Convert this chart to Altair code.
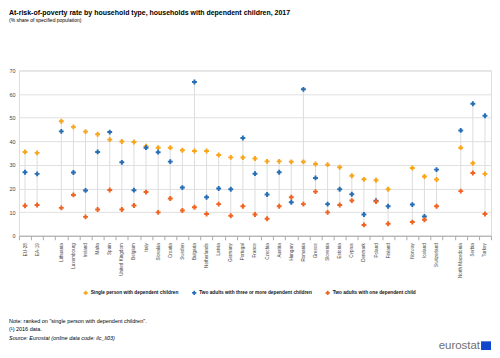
import altair as alt
import pandas as pd

# ---- data ----
countries = ["EU-28", "EA-19", "Lithuania", "Luxembourg", "Ireland", "Malta", "Spain",
             "United Kingdom", "Belgium", "Italy", "Slovakia", "Croatia", "Sweden", "Bulgaria",
             "Netherlands", "Latvia", "Germany", "Portugal", "France", "Czechia", "Austria",
             "Hungary", "Romania", "Greece", "Slovenia", "Estonia", "Cyprus", "Denmark",
             "Poland", "Finland", "Norway", "Iceland", "Switzerland", "North Macedonia",
             "Serbia", "Turkey"]
axis_order = ["EU-28", "EA-19", " ", "Lithuania", "Luxembourg", "Ireland", "Malta", "Spain",
              "United Kingdom", "Belgium", "Italy", "Slovakia", "Croatia", "Sweden", "Bulgaria",
              "Netherlands", "Latvia", "Germany", "Portugal", "France", "Czechia", "Austria",
              "Hungary", "Romania", "Greece", "Slovenia", "Estonia", "Cyprus", "Denmark",
              "Poland", "Finland", "  ", "Norway", "Iceland", "Switzerland", "   ",
              "North Macedonia", "Serbia", "Turkey"]
single = [35.5, 35.1, 48.5, 46.1, 44.1, 43.0, 40.7, 39.9, 39.7, 37.9, 37.3, 37.3, 36.2, 35.9,
          35.9, 34.2, 33.2, 33.1, 32.7, 31.5, 31.5, 31.3, 31.3, 30.4, 30.1, 29.0, 25.4, 23.9,
          23.5, 19.7, 28.7, 25.1, 23.8, 37.3, 30.7, 26.2]
three_plus = [26.9, 26.2, 44.2, 26.8, 19.2, 35.5, 43.9, 31.1, 19.3, 37.3, 35.4, 31.4, 20.4, 65.1,
              16.3, 20.0, 19.7, 41.4, 26.3, 17.5, 26.9, 14.2, 62.0, 24.5, 13.4, 19.7, 17.6, 9.0,
              14.8, 12.5, 13.2, 8.2, 28.0, 44.6, 55.9, 50.8]
one_child = [12.7, 13.0, 11.8, 17.3, 8.0, 11.1, 19.4, 11.1, 12.8, 18.5, 9.9, 15.8, 10.7, 12.1,
             9.2, 13.4, 8.5, 12.5, 9.0, 7.2, 12.5, 16.3, 13.4, 18.7, 9.9, 13.0, 14.9, 4.6,
             14.5, 5.1, 5.8, 6.8, 12.5, 18.9, 26.6, 9.2]
series_names = ["Single person with dependent children",
                "Two adults with three or more dependent children",
                "Two adults with one dependent child"]
series_colors = ["#FAA519", "#286EB4", "#F06423"]
y_ticks = [0, 10, 20, 30, 40, 50, 60, 70]

title = "At-risk-of-poverty rate by household type, households with dependent children, 2017"
subtitle = "(% share of specified population)"
notes = ['Note: ranked on "single person with dependent children".',
         "(\u00b9) 2016 data.",
         "Source: Eurostat (online data code: ilc_li03)"]

FONT = "Liberation Sans"

# ---- tables ----
rows = []
for i, c in enumerate(countries):
    for s, vals in zip(series_names, [single, three_plus, one_child]):
        rows.append({"country": c, "series": s, "value": vals[i]})
df = pd.DataFrame(rows)
rng = pd.DataFrame({
    "country": countries,
    "lo": [min(a, b, c) for a, b, c in zip(single, three_plus, one_child)],
    "hi": [max(a, b, c) for a, b, c in zip(single, three_plus, one_child)],
})

xscale = alt.Scale(type="band", domain=axis_order, paddingInner=0, paddingOuter=0)
xaxis = alt.Axis(title=None, labelAngle=-90, labelFontSize=4.6, labelFont=FONT,
                 labelColor="#444", labelPadding=3, tickBand="extent", tickSize=4,
                 tickColor="#aaa", domainColor="#aaa", grid=False, labelOverlap=False)
yscale = alt.Scale(domain=[0, 70], nice=False)
yaxis = alt.Axis(title=None, values=y_ticks, labelFontSize=5.5, labelFont=FONT,
                 labelColor="#444", domain=False, ticks=False, gridColor="#e0e0e0",
                 labelPadding=4)

rules = alt.Chart(rng).mark_rule(color="#dddddd", strokeWidth=1).encode(
    x=alt.X("country:N", scale=xscale, axis=xaxis, sort=axis_order),
    y=alt.Y("lo:Q", scale=yscale, axis=yaxis),
    y2="hi:Q",
)

points = alt.Chart(df).mark_point(shape="cross", filled=True, size=24, opacity=1).encode(
    x=alt.X("country:N", scale=xscale, axis=xaxis, sort=axis_order),
    y=alt.Y("value:Q", scale=yscale, axis=yaxis),
    color=alt.Color("series:N", sort=series_names,
                    scale=alt.Scale(domain=series_names, range=series_colors),
                    legend=alt.Legend(title=None, orient="none", legendX=64, legendY=220,
                                      direction="horizontal", labelFontSize=4.8,
                                      labelFont=FONT, labelFontWeight="bold",
                                      labelColor="#111", symbolType="cross",
                                      symbolSize=18, columnPadding=12, labelOffset=2)),
)

def txt(s, x, y, size, weight="normal", style="normal", color="#000", align="left",
        baseline="middle"):
    return alt.Chart(pd.DataFrame({"t": [s]})).mark_text(
        font=FONT, fontSize=size, fontWeight=weight, fontStyle=style, color=color,
        align=align, baseline=baseline).encode(text="t:N", x=alt.value(x), y=alt.value(y))

layers = [rules, points,
          txt(title, -10, -62, 7.0, weight="bold", baseline="top"),
          txt(subtitle, -10, -51, 5.0),
          txt(notes[0], -10, 252, 5.5),
          txt(notes[1], -10, 260, 5.5),
          txt(notes[2], -10, 269, 5.5, style="italic"),
          txt("eurostat", 463, 277, 11.5, color="#6f6f6f", align="right")]

flag = alt.Chart(pd.DataFrame({"k": [0]})).mark_rect(color="#0E47CB").encode(
    x=alt.value(464), x2=alt.value(474), y=alt.value(272), y2=alt.value(282))
layers.append(flag)

chart = alt.layer(*layers).properties(
    width=474, height=166,
    autosize=alt.AutoSizeParams(type="none"),
    padding={"left": 11, "top": 62, "right": 1, "bottom": 114},
).configure_view(stroke=None).configure(background="white")

chart.save("out.html", embed_options={"renderer": "svg", "actions": False})
